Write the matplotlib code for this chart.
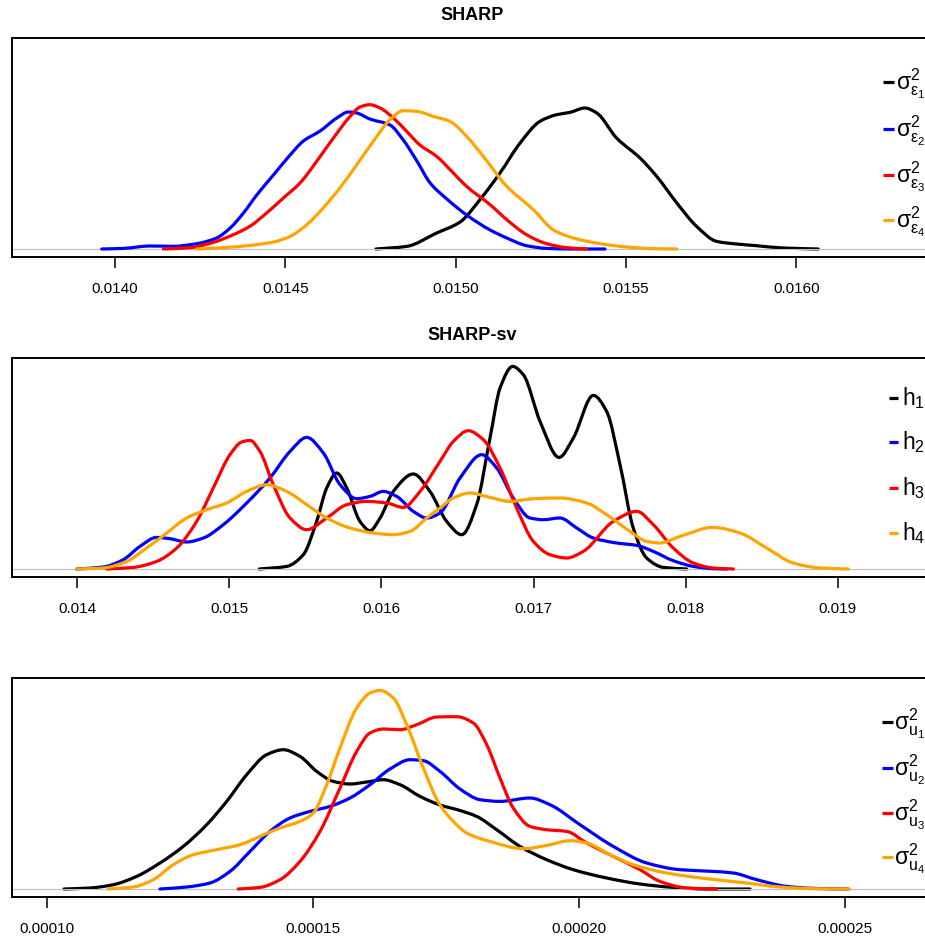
import matplotlib
matplotlib.use("Agg")
import numpy as np
import matplotlib.pyplot as plt
from matplotlib import font_manager
from matplotlib.lines import Line2D
from matplotlib.path import Path
from matplotlib.patches import PathPatch

# ---------------- data ----------------
# Panel 1: SHARP, sigma^2_eps (density heights in arbitrary units)
p1_black_x = [0.014766, 0.014856, 0.014944, 0.015013, 0.015071, 0.015130, 0.015189, 0.015247,
              0.015296, 0.015335, 0.015379, 0.015414, 0.015472, 0.015541, 0.015590, 0.015649,
              0.015707, 0.015766, 0.015815, 0.015883, 0.015962, 0.016064]
p1_black_y = [0, 2.6, 16, 27, 49.3, 76, 106, 127.6, 134.3, 136.6, 141, 136, 111, 91, 72.6, 46,
              22.6, 7.6, 5.3, 3.3, 1, 0]
p1_blue_x = [0.013961, 0.014024, 0.014103, 0.014171, 0.014240, 0.014298, 0.014338, 0.014377,
             0.014416, 0.014465, 0.014514, 0.014553, 0.014602, 0.014651, 0.014685, 0.014709,
             0.014748, 0.014807, 0.014846, 0.014886, 0.014925, 0.014974, 0.015032, 0.015101,
             0.015150, 0.015208, 0.015267, 0.015344, 0.015438]
p1_blue_y = [0, 0.6, 3, 2.7, 5.3, 11, 21, 36, 54, 74, 94, 108, 118, 131, 137, 136, 130, 124,
             109, 88, 66, 50, 34, 19, 11, 3.3, 0.6, 0, 0]
p1_red_x = [0.014142, 0.014220, 0.014289, 0.014347, 0.014396, 0.014445, 0.014494, 0.014543,
            0.014592, 0.014641, 0.014690, 0.014719, 0.014748, 0.014778, 0.014817, 0.014856,
            0.014895, 0.014944, 0.014993, 0.015032, 0.015101, 0.015150, 0.015208, 0.015267,
            0.015326, 0.015384]
p1_red_y = [0, 1.3, 6.7, 14.3, 22.7, 36, 51, 66, 87.7, 111, 132.6, 142, 144.3, 141, 131, 117.6,
            104, 92.6, 76, 62.6, 44.3, 29.3, 14.3, 5.3, 1.3, 0]
p1_orange_x = [0.014240, 0.014318, 0.014396, 0.014465, 0.014514, 0.014563, 0.014611, 0.014660,
               0.014709, 0.014758, 0.014807, 0.014846, 0.014886, 0.014934, 0.014983, 0.015032,
               0.015081, 0.015150, 0.015228, 0.015286, 0.015345, 0.015424, 0.015502, 0.015580,
               0.015649]
p1_orange_y = [0, 1.3, 3.6, 7, 12.6, 24.3, 41, 61, 84, 107.6, 129.3, 138.3, 137.6, 132.6, 127.6,
               112.6, 92.6, 62.6, 39.3, 19.3, 11, 5.3, 2, 0.3, 0]

# Panel 2: SHARP-sv, h
p2_black_x = [0.015197, 0.015377, 0.015486, 0.015574, 0.015640, 0.015706, 0.015772, 0.015859,
              0.015925, 0.015991, 0.016078, 0.016210, 0.016319, 0.016429, 0.016528, 0.016626,
              0.016714, 0.016780, 0.016863, 0.016933, 0.017043, 0.017168, 0.017262, 0.017393,
              0.017481, 0.017569, 0.017656, 0.017744, 0.017854, 0.018007]
p2_black_y = [0, 2.6, 14.3, 47.6, 81, 96, 81, 47.6, 38.3, 51, 77.6, 95, 77.6, 47.6, 34.3, 64.3,
              131, 181, 202.6, 194.3, 147.6, 111.6, 131, 173.6, 157.6, 104.3, 41, 11, 1.6, 0]
p2_blue_x = [0.013996, 0.014171, 0.014302, 0.014412, 0.014522, 0.014610, 0.014719, 0.014829,
             0.014960, 0.015114, 0.015267, 0.015399, 0.015509, 0.015618, 0.015728, 0.015837,
             0.015925, 0.016012, 0.016100, 0.016210, 0.016298, 0.016385, 0.016517, 0.016659,
             0.016758, 0.016867, 0.016977, 0.017064, 0.017174, 0.017284, 0.017393, 0.017547,
             0.017679, 0.017788, 0.017919, 0.018051, 0.018182, 0.018270]
p2_blue_y = [0, 2, 9.3, 22.6, 31.6, 30.3, 27, 31, 44.3, 66, 91, 117.6, 131.6, 116, 84.3, 70.3,
             72.6, 77.6, 72.6, 57.6, 51, 56, 91, 114.3, 101, 71, 51, 49.3, 51, 41, 31, 26, 23.6,
             17.6, 8.3, 2.6, 0.3, 0]
p2_red_x = [0.014193, 0.014368, 0.014522, 0.014654, 0.014785, 0.014894, 0.015004, 0.015081,
            0.015136, 0.015201, 0.015289, 0.015399, 0.015509, 0.015640, 0.015772, 0.015903,
            0.016035, 0.016144, 0.016254, 0.016385, 0.016473, 0.016571, 0.016670, 0.016780,
            0.016889, 0.016999, 0.017108, 0.017218, 0.017327, 0.017525, 0.017679, 0.017788,
            0.017919, 0.018051, 0.018182, 0.018314]
p2_red_y = [0, 1.6, 7.6, 21, 47.6, 81, 114.3, 127, 128.6, 117.6, 84.3, 51, 39.3, 51, 64.3, 67.6,
            66, 61.6, 77.6, 107.6, 127.6, 138.3, 129.3, 101, 61, 27.6, 14.3, 11, 17.6, 47.6, 57.6,
            44.3, 21, 6, 1, 0]
p2_orange_x = [0.013996, 0.014171, 0.014325, 0.014456, 0.014588, 0.014719, 0.014851, 0.014982,
               0.015114, 0.015245, 0.015377, 0.015509, 0.015640, 0.015793, 0.015947, 0.016078,
               0.016188, 0.016298, 0.016385, 0.016473, 0.016582, 0.016714, 0.016845, 0.016999,
               0.017174, 0.017350, 0.017481, 0.017635, 0.017744, 0.017832, 0.017963, 0.018182,
               0.018358, 0.018533, 0.018708, 0.018884, 0.019070]
p2_orange_y = [0, 1, 7.6, 21, 36, 51, 59.3, 66, 77.6, 84.3, 77.6, 64.3, 51, 41, 36, 34.3, 37.6,
               51, 61, 71, 76, 71.6, 67.6, 70.3, 71, 66, 54.3, 37.6, 27.6, 26, 32.6, 41.6, 36, 21,
               6, 1, 0]

# Panel 3: sigma^2_u
p3_black_x = [1.0314e-4, 1.0803e-4, 1.1241e-4, 1.1680e-4, 1.2118e-4, 1.2556e-4, 1.2996e-4,
              1.3372e-4, 1.3748e-4, 1.4124e-4, 1.4436e-4, 1.4750e-4, 1.5064e-4, 1.5376e-4,
              1.5690e-4, 1.6004e-4, 1.6316e-4, 1.6630e-4, 1.7006e-4, 1.7382e-4, 1.7758e-4,
              1.8071e-4, 1.8447e-4, 1.8885e-4, 1.9387e-4, 1.9887e-4, 2.0515e-4, 2.1141e-4,
              2.1767e-4, 2.2395e-4, 2.3209e-4]
p3_black_y = [0, 1, 4.3, 12.6, 26, 42.6, 64.3, 87.6, 114.3, 134.3, 139.3, 132.6, 117.6, 107.6,
              105, 107, 109.3, 104.3, 92.6, 84, 78.5, 72.6, 59.3, 42.6, 29.3, 19.3, 11, 5, 1.6,
              0, 0]
p3_blue_x = [1.2118e-4, 1.2620e-4, 1.3058e-4, 1.3434e-4, 1.3810e-4, 1.4186e-4, 1.4562e-4,
             1.4938e-4, 1.5314e-4, 1.5690e-4, 1.6066e-4, 1.6442e-4, 1.6818e-4, 1.7068e-4,
             1.7382e-4, 1.7758e-4, 1.8134e-4, 1.8509e-4, 1.9073e-4, 1.9449e-4, 2.0013e-4,
             2.0639e-4, 2.1267e-4, 2.1893e-4, 2.2519e-4, 2.2895e-4, 2.3335e-4, 2.3898e-4,
             2.4399e-4, 2.5056e-4]
p3_blue_y = [0, 2, 6, 17.6, 37.6, 57.6, 71, 77.6, 82.6, 91, 104.3, 120, 129.3, 128.3, 117.6, 100,
             89.3, 87.6, 91, 84.3, 64.3, 42.6, 26, 19.3, 17.6, 16, 9.3, 2.6, 0.6, 0]
p3_red_x = [1.3590e-4, 1.3998e-4, 1.4374e-4, 1.4750e-4, 1.5126e-4, 1.5502e-4, 1.5816e-4,
            1.6066e-4, 1.6316e-4, 1.6630e-4, 1.6944e-4, 1.7320e-4, 1.7696e-4, 1.8008e-4,
            1.8260e-4, 1.8509e-4, 1.8759e-4, 1.9073e-4, 1.9387e-4, 1.9763e-4, 2.0139e-4,
            2.0639e-4, 2.1141e-4, 2.1517e-4, 2.2019e-4, 2.2583e-4]
p3_red_y = [0, 1.6, 9.3, 27.6, 57.6, 101, 137.6, 156, 160, 159.3, 164.3, 172, 172.3, 166, 144.3,
            111, 81, 62.6, 59.3, 57.6, 46, 32.6, 19.3, 7.6, 1, 0]
p3_orange_x = [1.1147e-4, 1.1617e-4, 1.1992e-4, 1.2368e-4, 1.2744e-4, 1.3184e-4, 1.3622e-4,
               1.3998e-4, 1.4374e-4, 1.4750e-4, 1.5000e-4, 1.5252e-4, 1.5502e-4, 1.5816e-4,
               1.6066e-4, 1.6254e-4, 1.6504e-4, 1.6756e-4, 1.7068e-4, 1.7382e-4, 1.7632e-4,
               1.7884e-4, 1.8321e-4, 1.8947e-4, 1.9387e-4, 1.9825e-4, 2.0139e-4, 2.0577e-4,
               2.1015e-4, 2.1643e-4, 2.2395e-4, 2.3146e-4, 2.3773e-4, 2.4399e-4, 2.5075e-4]
p3_orange_y = [0, 2, 9.3, 24.3, 34.3, 39.3, 44.3, 52.6, 61, 67.6, 76, 104.3, 141, 181, 196, 198.6,
               191, 164.3, 121, 84, 67.6, 56, 47.6, 40.3, 43.6, 48.3, 46, 34.3, 24.3, 16, 10.3, 6,
               2, 0.3, 0]

colors = ["black", "blue", "red", "orange"]
titles = ["SHARP", "SHARP-sv", None]
p1_ticks = [0.0140, 0.0145, 0.0150, 0.0155, 0.0160]
p1_labels = ["0.0140", "0.0145", "0.0150", "0.0155", "0.0160"]
p2_ticks = [0.014, 0.015, 0.016, 0.017, 0.018, 0.019]
p2_labels = ["0.014", "0.015", "0.016", "0.017", "0.018", "0.019"]
p3_ticks = [0.00010, 0.00015, 0.00020, 0.00025]
p3_labels = ["0.00010", "0.00015", "0.00020", "0.00025"]
p1_legend = [r"$\sigma^2_{\varepsilon_%d}$" % i for i in range(1, 5)]
p2_legend = [r"$\mathregular{h}_%d$" % i for i in range(1, 5)]
p3_legend = [r"$\sigma^2_{u_%d}$" % i for i in range(1, 5)]

# ---------------- style ----------------
names = {f.name for f in font_manager.fontManager.ttflist}
FONT = "Liberation Sans Narrow" if "Liberation Sans Narrow" in names else "Liberation Sans"
plt.rcParams["font.family"] = [FONT, "DejaVu Sans"]
plt.rcParams["mathtext.fontset"] = "custom"
plt.rcParams["mathtext.rm"] = FONT
plt.rcParams["mathtext.it"] = FONT
plt.rcParams["mathtext.sf"] = FONT
plt.rcParams["mathtext.default"] = "regular"


def smooth_path(xs, ys):
    """Piecewise cubic Bezier path through the read points (monotone Hermite slopes)."""
    x = np.asarray(xs, float)
    y = np.asarray(ys, float)
    h = np.diff(x)
    delta = np.diff(y) / h
    n = len(x)
    d = np.zeros(n)
    for k in range(1, n - 1):
        if delta[k - 1] * delta[k] > 0:
            w1 = 2 * h[k] + h[k - 1]
            w2 = h[k] + 2 * h[k - 1]
            d[k] = (w1 + w2) / (w1 / delta[k - 1] + w2 / delta[k])
    d[0] = delta[0]
    d[-1] = delta[-1]
    verts = [(x[0], y[0])]
    codes = [Path.MOVETO]
    for k in range(n - 1):
        verts += [(x[k] + h[k] / 3, y[k] + d[k] * h[k] / 3),
                  (x[k + 1] - h[k] / 3, y[k + 1] - d[k + 1] * h[k] / 3),
                  (x[k + 1], y[k + 1])]
        codes += [Path.CURVE4] * 3
    return Path(verts, codes)


W, H = 925, 941
fig = plt.figure(figsize=(W / 100, H / 100), dpi=100)

panels = [
    dict(top=38, bottom=257, xlim=(0.0136977, 0.0163832), ticks=p1_ticks, labels=p1_labels,
         series=[(p1_black_x, p1_black_y), (p1_blue_x, p1_blue_y), (p1_red_x, p1_red_y),
                 (p1_orange_x, p1_orange_y)],
         legend=p1_legend, leg_y=[82.3, 129, 175, 220], leg_x=(883, 894, 895.5), base=7.5,
         title_y=15),
    dict(top=358, bottom=577, xlim=(0.0135706, 0.0195876), ticks=p2_ticks, labels=p2_labels,
         series=[(p2_black_x, p2_black_y), (p2_blue_x, p2_blue_y), (p2_red_x, p2_red_y),
                 (p2_orange_x, p2_orange_y)],
         legend=p2_legend, leg_y=[398.3, 442, 488, 533], leg_x=(889, 898, 901.5), base=6.7,
         title_y=335),
    dict(top=678, bottom=897, xlim=(9.3365e-5, 2.6536e-4), ticks=p3_ticks, labels=p3_labels,
         series=[(p3_black_x, p3_black_y), (p3_blue_x, p3_blue_y), (p3_red_x, p3_red_y),
                 (p3_orange_x, p3_orange_y)],
         legend=p3_legend, leg_y=[721.7, 768.3, 813.3, 856.7], leg_x=(882, 893, 894.5), base=7.5,
         title_y=None),
]

for i, p in enumerate(panels):
    ax = fig.add_axes([12 / W, 1 - p["bottom"] / H, 915 / W, (p["bottom"] - p["top"]) / H])
    ax.set_xlim(*p["xlim"])
    ax.set_ylim(-8, 211)
    for k, ((xs, ys), c) in enumerate(zip(p["series"], colors)):
        ax.add_patch(PathPatch(smooth_path(xs, ys), fill=False, edgecolor=c, lw=2.3,
                               capstyle="round", joinstyle="round",
                               zorder=2 if k == 0 else 3 + k))
    ax.axhline(0, color="#BEBEBE", lw=0.8, zorder=2.5)
    ax.set_xticks(p["ticks"])
    ax.set_xticklabels(p["labels"], fontsize=11)
    ax.set_yticks([])
    ax.tick_params(axis="x", direction="out", length=8, width=1.1, pad=10)
    for s in ax.spines.values():
        s.set_linewidth(1.4)
    if titles[i]:
        fig.text(472 / W, 1 - p["title_y"] / H, titles[i], ha="center", va="center",
                 fontsize=13, fontweight="bold")
    # legend (no frame, placed at the right inside the panel)
    x0, x1, xt = p["leg_x"]
    for lab, c, ypx in zip(p["legend"], colors, p["leg_y"]):
        fig.add_artist(Line2D([x0 / W, x1 / W], [1 - ypx / H, 1 - ypx / H], color=c, lw=2.3,
                              transform=fig.transFigure, solid_capstyle="butt"))
        fig.text(xt / W, 1 - (ypx + p["base"]) / H, lab, ha="left", va="baseline",
                 fontsize=16.5)

fig.savefig("out.png", dpi=100)
